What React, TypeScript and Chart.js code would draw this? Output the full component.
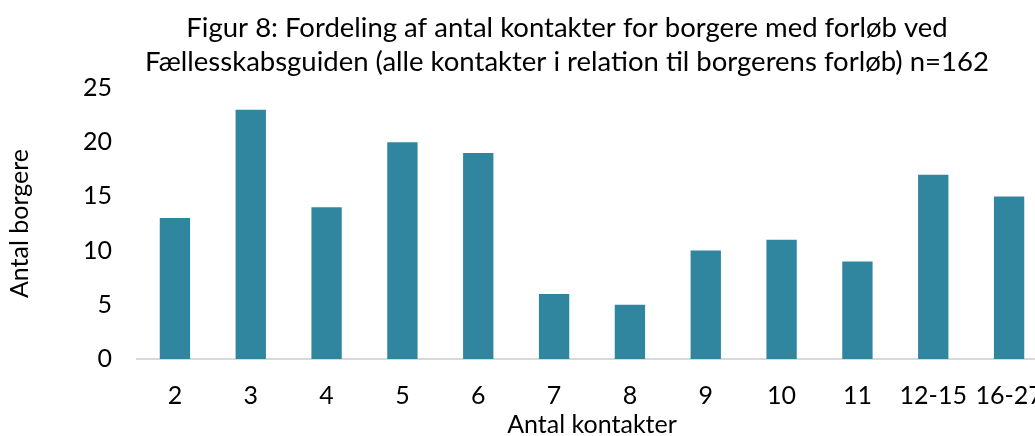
import React, { useEffect, useRef } from "react";
import { Chart, registerables } from "chart.js";

Chart.register(...registerables);

const categories = ["2", "3", "4", "5", "6", "7", "8", "9", "10", "11", "12-15", "16-27"];
const borgere = [13, 23, 14, 20, 19, 6, 5, 10, 11, 9, 17, 15];
const yTickValues = [0, 5, 10, 15, 20, 25];
const titleLines = [
  "Figur 8: Fordeling af antal kontakter for borgere med forløb ved",
  "Fællesskabsguiden (alle kontakter i relation til borgerens forløb) n=162",
];
const xTitle = "Antal kontakter";
const yTitle = "Antal borgere";

const FONT = "Lato, 'Noto Sans', sans-serif";

export default function App() {
  const ref = useRef<HTMLCanvasElement | null>(null);

  useEffect(() => {
    if (!ref.current) return;
    const chart = new Chart(ref.current, {
      type: "bar",
      data: {
        labels: categories,
        datasets: [
          {
            label: yTitle,
            data: borgere,
            backgroundColor: "#31869f",
            borderWidth: 0,
            barPercentage: 0.4,
            categoryPercentage: 1,
            yAxisID: "y",
          },
        ],
      },
      options: {
        responsive: false,
        animation: false,
        layout: { padding: 0 },
        plugins: {
          legend: { display: false },
          tooltip: { enabled: false },
          title: {
            display: true,
            text: titleLines,
            color: "#000",
            font: { family: FONT, size: 27.5, weight: "normal", lineHeight: 1.236 },
            padding: { top: 11, bottom: 9 },
          },
        },
        scales: {
          x: {
            type: "category",
            offset: true,
            grid: { display: true, color: "transparent", drawTicks: false, tickLength: 0 },
            border: { display: true, color: "#d9d9d9", width: 2 },
            ticks: {
              color: "#000",
              font: { family: FONT, size: 25 },
              padding: 22,
              maxRotation: 0,
              autoSkip: false,
            },
            title: {
              display: true,
              text: xTitle,
              color: "#000",
              font: { family: FONT, size: 25, lineHeight: 0.9 },
              padding: 0,
            },
            afterFit: (s: any) => {
              s.height = 77;
            },
          },
          y: {
            type: "linear",
            position: "left",
            min: 0,
            max: 25,
            grid: { display: false, drawTicks: false, tickLength: 0 },
            border: { display: false },
            afterBuildTicks: (s: any) => {
              s.ticks = yTickValues.map((v) => ({ value: v }));
            },
            ticks: {
              color: "#000",
              font: { family: FONT, size: 25 },
              padding: 25,
            },
            title: {
              display: true,
              text: yTitle,
              color: "#000",
              font: { family: FONT, size: 25 },
              padding: { top: 5, bottom: 0 },
            },
            afterFit: (s: any) => {
              s.width = 137;
            },
          },
          yRight: {
            type: "linear",
            position: "right",
            display: true,
            grid: { display: false },
            border: { display: false },
            ticks: { display: false },
            afterFit: (s: any) => {
              s.width = 87;
            },
          },
        },
      },
    });
    return () => chart.destroy();
  }, []);

  return (
    <div
      style={{
        position: "fixed",
        left: 0,
        top: 0,
        width: 1035,
        height: 436,
        overflow: "hidden",
        background: "#fff",
      }}
    >
      <canvas ref={ref} width={1134} height={436} style={{ display: "block" }} />
    </div>
  );
}
